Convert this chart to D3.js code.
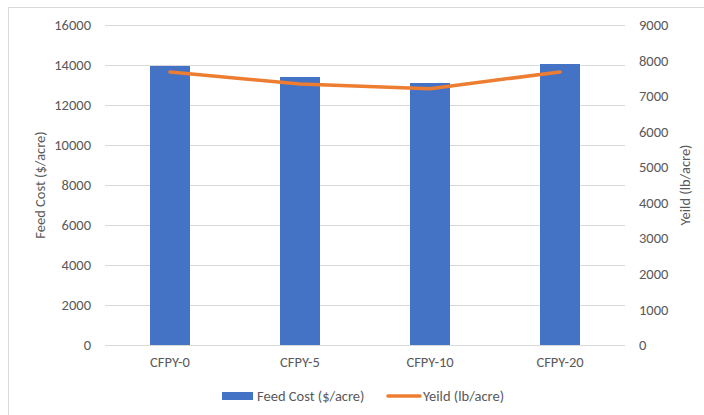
<!DOCTYPE html>
<html>
<head>
<meta charset="utf-8">
<script src="https://cdn.jsdelivr.net/npm/d3@7"></script>
<style>
  html, body { margin: 0; padding: 0; background: #fff; overflow: hidden; }
  text { font-family: Calibri, Carlito, "Liberation Sans", Arial, sans-serif; fill: #595959; }
</style>
</head>
<body>
<svg id="chart" width="704" height="415"></svg>
<script>
// Feed cost (bars, left axis) and yield (line, right axis) per treatment
const categories = ["CFPY-0", "CFPY-5", "CFPY-10", "CFPY-20"];
const feedCost = [13950, 13400, 13100, 14050];
const yieldLb = [7680, 7340, 7210, 7680];
const leftTicks = [0, 2000, 4000, 6000, 8000, 10000, 12000, 14000, 16000];
const rightTicks = [0, 1000, 2000, 3000, 4000, 5000, 6000, 7000, 8000, 9000];
const seriesNames = ["Feed Cost ($/acre)", "Yeild (lb/acre)"];
const leftTitle = "Feed Cost ($/acre)";
const rightTitle = "Yeild (lb/acre)";

const FONT = "Calibri, Carlito, 'Liberation Sans', Arial, sans-serif";
const FS = "14.5px";

const svg = d3.select("#chart");
const W = 704, H = 415;
const plot = { left: 105, right: 625, top: 25, bottom: 345 };

// chart area frame (runs past the right and bottom edges)
svg.append("rect")
  .attr("x", 8.5).attr("y", 7.5)
  .attr("width", W).attr("height", H)
  .attr("fill", "#fff").attr("stroke", "#d9d9d9").attr("stroke-width", 1);

const x = d3.scaleBand().domain(categories).range([plot.left, plot.right]).paddingInner(0).paddingOuter(0);
const yL = d3.scaleLinear().domain([0, 16000]).range([plot.bottom, plot.top]);
const yR = d3.scaleLinear().domain([0, 9000]).range([plot.bottom, plot.top]);

// horizontal gridlines from the left axis
svg.append("g").selectAll("line").data(leftTicks).join("line")
  .attr("x1", plot.left).attr("x2", plot.right)
  .attr("y1", d => Math.round(yL(d)) + 0.5).attr("y2", d => Math.round(yL(d)) + 0.5)
  .attr("stroke", "#d9d9d9").attr("stroke-width", 1);

function styleAxis(g) {
  g.select(".domain").remove();
  g.selectAll("text").style("font-size", FS).style("font-family", FONT).attr("fill", "#595959");
}

// left axis labels
const leftAxis = d3.axisLeft(yL).tickValues(leftTicks).tickFormat(d3.format("d")).tickSize(0).tickPadding(14);
svg.append("g").attr("transform", `translate(${plot.left},0)`).call(leftAxis).call(styleAxis);

// right axis labels
const rightAxis = d3.axisRight(yR).tickValues(rightTicks).tickFormat(d3.format("d")).tickSize(0).tickPadding(14);
svg.append("g").attr("transform", `translate(${plot.right},0)`).call(rightAxis).call(styleAxis);

// category axis
const bottomAxis = d3.axisBottom(x).tickSize(0).tickPadding(12);
svg.append("g").attr("transform", `translate(0,${plot.bottom})`).call(bottomAxis).call(styleAxis);

// bars
const barW = 40;
svg.append("g").selectAll("rect").data(categories).join("rect")
  .attr("x", d => x(d) + x.bandwidth() / 2 - barW / 2)
  .attr("width", barW)
  .attr("y", (d, i) => yL(feedCost[i]))
  .attr("height", (d, i) => plot.bottom - yL(feedCost[i]))
  .attr("fill", "#4472C4");

// yield line
const line = d3.line()
  .x((d, i) => x(categories[i]) + x.bandwidth() / 2)
  .y(d => yR(d));
svg.append("path").datum(yieldLb)
  .attr("d", line)
  .attr("fill", "none")
  .attr("stroke", "#ED7D31")
  .attr("stroke-width", 3.5)
  .attr("stroke-linecap", "round")
  .attr("stroke-linejoin", "round");

// axis titles
const midY = (plot.top + plot.bottom) / 2;
svg.append("text")
  .attr("transform", `translate(45,${midY}) rotate(-90)`)
  .attr("text-anchor", "middle")
  .style("font-size", FS)
  .text(leftTitle);
svg.append("text")
  .attr("transform", `translate(690,${midY}) rotate(-90)`)
  .attr("text-anchor", "middle")
  .style("font-size", FS)
  .text(rightTitle);

// legend
const lg = svg.append("g");
lg.append("rect").attr("x", 222).attr("y", 392).attr("width", 31).attr("height", 8).attr("fill", "#4472C4");
lg.append("text").attr("x", 257).attr("y", 401).style("font-size", FS).text(seriesNames[0]);
lg.append("line").attr("x1", 388).attr("x2", 420).attr("y1", 396).attr("y2", 396)
  .attr("stroke", "#ED7D31").attr("stroke-width", 3.5).attr("stroke-linecap", "round");
lg.append("text").attr("x", 423).attr("y", 401).style("font-size", FS).text(seriesNames[1]);
</script>
</body>
</html>
